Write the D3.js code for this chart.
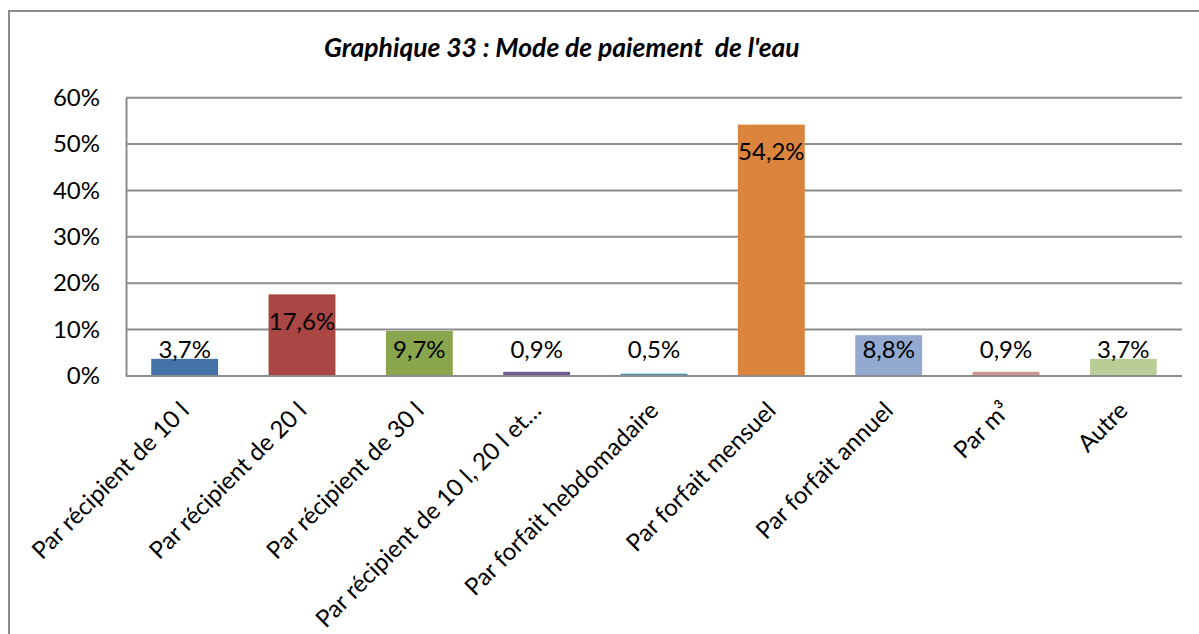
<!DOCTYPE html>
<html>
<head>
<meta charset="utf-8">
<script src="https://cdn.jsdelivr.net/npm/d3@7"></script>
<style>
  body { margin: 0; background: #fff; }
  svg { display: block; font-family: Lato, "Open Sans", sans-serif; }
</style>
</head>
<body>
<svg width="1199" height="634"></svg>
<script>
// data
const categories = [
  "Par récipient de 10 l",
  "Par récipient de 20 l",
  "Par récipient de 30 l",
  "Par récipient de 10 l, 20 l et…",
  "Par forfait hebdomadaire",
  "Par forfait mensuel",
  "Par forfait annuel",
  "Par m³",
  "Autre",
];
const values = [3.7, 17.6, 9.7, 0.9, 0.5, 54.2, 8.8, 0.9, 3.7];
const yTicks = [0, 10, 20, 30, 40, 50, 60];
const barColors = [
  "#4572A7", "#AA4643", "#89A54E", "#71588F", "#4198AF",
  "#DB843D", "#93A9CF", "#D19392", "#B9CD96",
];
const title = "Graphique 33 : Mode de paiement  de l'eau";

const svg = d3.select("svg");
const GRID = "#8c8c8c";
const FONT_SIZE = 24;

// outer chart border (runs off the right and bottom edges)
svg.append("rect")
  .attr("x", 9).attr("y", 11)
  .attr("width", 1220).attr("height", 660)
  .attr("fill", "none")
  .attr("stroke", GRID)
  .attr("stroke-width", 2);

const plot = { left: 126, right: 1182, top: 97.7, bottom: 376 };

const x = d3.scaleBand()
  .domain(categories)
  .range([plot.left, plot.right])
  .paddingInner(0.43)
  .paddingOuter(0.215);

const y = d3.scaleLinear()
  .domain([0, 60])
  .range([plot.bottom, plot.top]);

// gridlines
svg.append("g")
  .selectAll("line")
  .data(yTicks)
  .join("line")
  .attr("x1", plot.left).attr("x2", plot.right)
  .attr("y1", (d) => y(d)).attr("y2", (d) => y(d))
  .attr("stroke", GRID)
  .attr("stroke-width", 2);

// y axis
const yAxis = svg.append("g")
  .attr("transform", `translate(${plot.left},0)`)
  .call(d3.axisLeft(y).tickValues(yTicks).tickSize(0).tickPadding(26)
    .tickFormat((d) => d + "%"));
yAxis.select(".domain").attr("stroke", GRID).attr("stroke-width", 2);
yAxis.selectAll("text")
  .attr("font-size", FONT_SIZE)
  .attr("font-family", "Lato, sans-serif")
  .attr("fill", "#000");

// bars
svg.append("g")
  .selectAll("rect")
  .data(values)
  .join("rect")
  .attr("x", (d, i) => x(categories[i]))
  .attr("y", (d) => y(d))
  .attr("width", x.bandwidth())
  .attr("height", (d) => y(0) - y(d))
  .attr("fill", (d, i) => barColors[i]);

// x axis line
svg.append("line")
  .attr("x1", plot.left).attr("x2", plot.right)
  .attr("y1", y(0)).attr("y2", y(0))
  .attr("stroke", GRID)
  .attr("stroke-width", 2);

// data labels
svg.append("g")
  .selectAll("text")
  .data(values)
  .join("text")
  .attr("x", (d, i) => x(categories[i]) + x.bandwidth() / 2)
  .attr("y", (d) => Math.min(y(d) + 27, y(0) - 26))
  .attr("dy", "0.35em")
  .attr("text-anchor", "middle")
  .attr("font-size", FONT_SIZE)
  .attr("fill", "#000")
  .text((d) => d.toFixed(1).replace(".", ",") + "%");

// category labels, rotated
svg.append("g")
  .selectAll("text")
  .data(categories)
  .join("text")
  .attr("transform", (d) => `translate(${x(d) + x.bandwidth() / 2},406) rotate(-45)`)
  .attr("dy", "0.35em")
  .attr("text-anchor", "end")
  .attr("font-size", FONT_SIZE)
  .attr("fill", "#000")
  .text((d) => d);

// title, sized to the reference width
const t = svg.append("text")
  .attr("x", 324).attr("y", 57)
  .attr("font-size", 22)
  .attr("font-weight", "bold")
  .attr("font-style", "italic")
  .attr("fill", "#000")
  .style("white-space", "pre")
  .text(title);
const tw = t.node().getComputedTextLength();
t.attr("font-size", 22 * 476 / tw);
</script>
</body>
</html>
